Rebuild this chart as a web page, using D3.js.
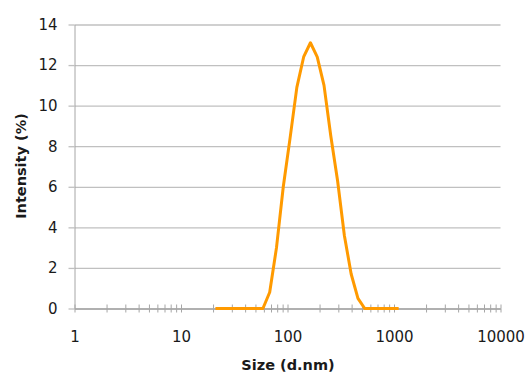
<!DOCTYPE html>
<html>
<head>
<meta charset="utf-8">
<script src="https://cdn.jsdelivr.net/npm/d3@7"></script>
<style>
  body { margin: 0; background: #fff; }
  text { font-family: 'DejaVu Sans', sans-serif; fill: #1a1a1a; }
</style>
</head>
<body>
<div id="chart"></div>
<script>
// size bins (d.nm) and intensity (%)
var sizes = [21.04, 24.36, 28.21, 32.67, 37.84, 43.82, 50.75, 58.77, 68.06, 78.82,
  91.28, 105.7, 122.4, 141.8, 164.2, 190.1, 220.2, 255.0, 295.3, 342.0,
  396.1, 458.7, 531.2, 615.1, 712.4, 825.0, 955.4, 1106]
var intensity = [0, 0, 0, 0, 0, 0, 0, 0, 0.8, 3.0,
  6.0, 8.4, 10.9, 12.4, 13.1, 12.4, 11.0, 8.5, 6.3, 3.6,
  1.7, 0.5, 0, 0, 0, 0, 0, 0]

var xLabels = [1, 10, 100, 1000, 10000]
var yTicks = [0, 2, 4, 6, 8, 10, 12, 14]

var width = 528
var height = 374

var svg = d3.select('#chart')
  .append('svg')
  .attr('width', width)
  .attr('height', height)

// scales
var xPositionScale = d3.scaleLog().domain([1, 10000]).range([74.5, 500.5])
var yPositionScale = d3.scaleLinear().domain([0, 14]).range([308.5, 24.5])

// minor ticks 1..9 in each decade
var minorTicks = []
for (var p = 0; p < 4; p++) {
  for (var k = 1; k < 10; k++) minorTicks.push(k * Math.pow(10, p))
}
minorTicks.push(10000)

// horizontal gridlines
svg.append('g')
  .attr('class', 'grid')
  .attr('transform', 'translate(' + xPositionScale.range()[0] + ',0)')
  .call(d3.axisLeft(yPositionScale).tickValues(yTicks)
    .tickSize(-(xPositionScale.range()[1] - xPositionScale.range()[0])).tickFormat(''))
  .call(g => g.select('.domain').remove())
  .call(g => g.selectAll('line').attr('stroke', '#c0c0c0').attr('stroke-width', 1.3))

// y axis
var yAxis = svg.append('g')
  .attr('class', 'axis y-axis')
  .attr('transform', 'translate(' + xPositionScale.range()[0] + ',0)')
  .call(d3.axisLeft(yPositionScale).tickValues(yTicks).tickSize(6).tickPadding(11).tickSizeOuter(0))
yAxis.select('.domain').attr('stroke', '#a6a6a6')
yAxis.selectAll('line').attr('stroke', '#c0c0c0').attr('stroke-width', 1.3)
yAxis.selectAll('text').attr('font-size', 15).style('font-family', "'DejaVu Sans', sans-serif").attr('fill', '#1a1a1a')

// x axis: minor ticks crossing the line
var xBase = yPositionScale(0)
svg.append('g')
  .attr('transform', 'translate(0,' + xBase + ')')
  .call(d3.axisBottom(xPositionScale).tickValues(minorTicks).tickSize(4).tickFormat('').tickSizeOuter(0))
  .call(g => g.select('.domain').attr('stroke', '#a6a6a6').attr('stroke-width', 1.3))
  .call(g => g.selectAll('line').attr('stroke', '#a6a6a6'))
svg.append('g')
  .attr('transform', 'translate(0,' + xBase + ')')
  .call(d3.axisBottom(xPositionScale).tickValues(minorTicks).tickSize(-4).tickFormat('').tickSizeOuter(0))
  .call(g => g.select('.domain').remove())
  .call(g => g.selectAll('line').attr('stroke', '#a6a6a6'))

// x labels
var xLab = svg.append('g')
  .attr('transform', 'translate(0,' + xBase + ')')
  .call(d3.axisBottom(xPositionScale).tickValues(xLabels).tickSize(0).tickPadding(23).tickFormat(d3.format('d')))
xLab.select('.domain').remove()
xLab.selectAll('text').attr('font-size', 15).style('font-family', "'DejaVu Sans', sans-serif").attr('fill', '#1a1a1a')

// the distribution line
var line = d3.line()
  .x((d, i) => xPositionScale(sizes[i]))
  .y(d => yPositionScale(d))

svg.append('path')
  .datum(intensity)
  .attr('d', line)
  .attr('fill', 'none')
  .attr('stroke', '#ff9a00')
  .attr('stroke-width', 3)
  .attr('stroke-linejoin', 'round')

// axis titles
svg.append('text')
  .attr('x', 288)
  .attr('y', 370)
  .attr('text-anchor', 'middle')
  .attr('font-size', 14.5)
  .attr('font-weight', 'bold')
  .text('Size (d.nm)')

svg.append('text')
  .attr('transform', 'translate(26,166) rotate(-90)')
  .attr('text-anchor', 'middle')
  .attr('font-size', 14.5)
  .attr('font-weight', 'bold')
  .text('Intensity (%)')
</script>
</body>
</html>
